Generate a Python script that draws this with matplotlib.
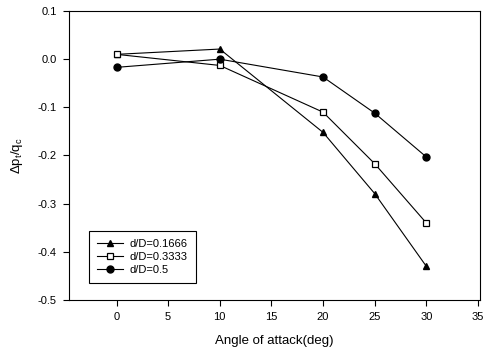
import matplotlib
matplotlib.use("Agg")
import matplotlib.pyplot as plt

plt.rcParams['font.family'] = ['Liberation Sans', 'DejaVu Sans']
plt.rcParams['mathtext.fontset'] = 'custom'
plt.rcParams['mathtext.rm'] = 'Liberation Sans'
plt.rcParams['mathtext.it'] = 'Liberation Sans'

angles = [0, 10, 20, 25, 30]
s1_label = "d/D=0.1666"
s1 = [0.010, 0.021, -0.152, -0.279, -0.430]
s2_label = "d/D=0.3333"
s2 = [0.010, -0.013, -0.110, -0.217, -0.340]
s3_label = "d/D=0.5"
s3 = [-0.017, 0.000, -0.037, -0.112, -0.203]

xticks = [0, 5, 10, 15, 20, 25, 30, 35]
yticks = [0.1, 0.0, -0.1, -0.2, -0.3, -0.4, -0.5]

fig = plt.figure(figsize=(4.91, 3.48), dpi=100)
ax = fig.add_axes([69/491, 1 - 300/348, (480-69)/491, (300-11)/348])

lw = 0.8
ax.plot(angles, s1, '-', color='black', lw=lw, marker='^', ms=5, mfc='black', mec='black', label=s1_label)
ax.plot(angles, s2, '-', color='black', lw=lw, marker='s', ms=4.6, mfc='white', mec='black', mew=0.9, label=s2_label)
ax.plot(angles, s3, '-', color='black', lw=lw, marker='o', ms=5, mfc='black', mec='black', label=s3_label)

ax.set_xlim(-4.6, 35.2)
ax.set_ylim(-0.5, 0.1)
ax.set_xticks(xticks)
ax.set_yticks(yticks)
ax.set_yticklabels(['%.1f' % v for v in yticks])
ax.tick_params(direction='out', length=4, width=0.8, labelsize=8, top=False, right=False, pad=5)
for sp in ax.spines.values():
    sp.set_linewidth(0.8)

ax.set_xlabel('Angle of attack(deg)', fontsize=9.5, labelpad=9)
ax.set_ylabel(r'$\Delta$p$_t$/q$_c$', fontsize=9.5, labelpad=9)

leg = ax.legend(loc='lower left', bbox_to_anchor=((89-69)/411, (300-283)/289), fontsize=8,
                frameon=True, fancybox=False, edgecolor='black', framealpha=1,
                handlelength=2.3, borderpad=0.75, labelspacing=0.25, handletextpad=0.6,
                borderaxespad=0, markerscale=1.0)
leg.get_frame().set_linewidth(0.8)

fig.savefig('out.png', dpi=100)
